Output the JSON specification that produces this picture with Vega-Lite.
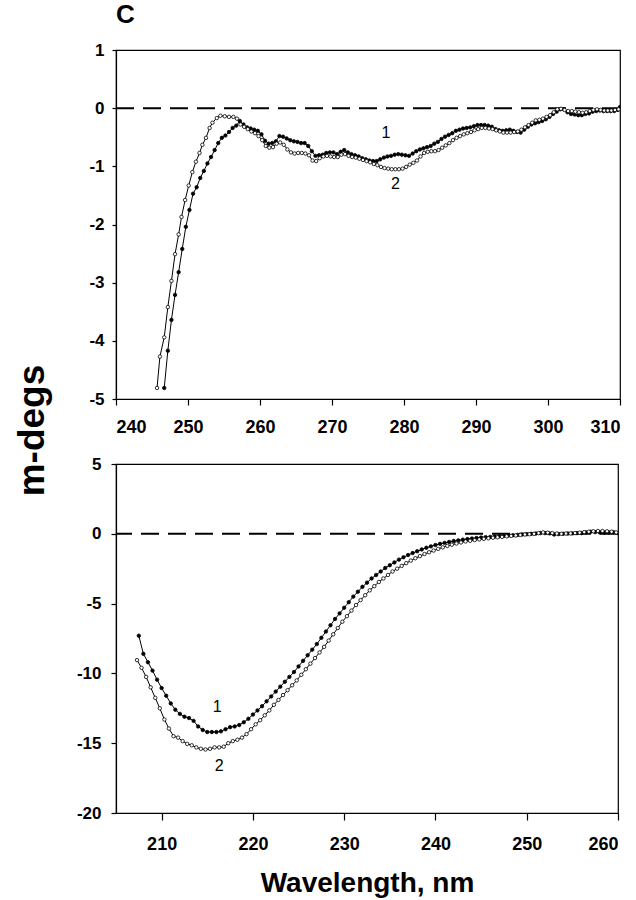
{
  "$schema": "https://vega.github.io/schema/vega-lite/v6.json",
  "background": "white",
  "padding": {"left": 12, "top": 1, "right": 5, "bottom": 2},
  "config": {
    "font": "Liberation Sans",
    "view": {"stroke": "black", "strokeWidth": 1.2},
    "axis": {"grid": false, "domainColor": "black", "domainWidth": 1.2, "tickColor": "black", "tickWidth": 1.2, "labelColor": "black", "labelFont": "Liberation Sans", "labelFontWeight": "bold", "labelFontSize": 17, "titleFont": "Liberation Sans", "titleColor": "black", "titleFontWeight": "bold"}
  },
  "datasets": {
    "top": [
      {"s":"1","w":246.7,"v":-4.81},{"s":"1","w":247.2,"v":-4.17},{"s":"1","w":247.7,"v":-3.64},{"s":"1","w":248.2,"v":-3.21},{"s":"1","w":248.7,"v":-2.82},{"s":"1","w":249.2,"v":-2.42},{"s":"1","w":249.7,"v":-2.04},{"s":"1","w":250.2,"v":-1.75},{"s":"1","w":250.7,"v":-1.47},{"s":"1","w":251.2,"v":-1.36},{"s":"1","w":251.7,"v":-1.2},{"s":"1","w":252.2,"v":-1.08},{"s":"1","w":252.7,"v":-0.95},{"s":"1","w":253.2,"v":-0.84},{"s":"1","w":253.7,"v":-0.72},{"s":"1","w":254.2,"v":-0.6},{"s":"1","w":254.7,"v":-0.51},{"s":"1","w":255.2,"v":-0.47},{"s":"1","w":255.7,"v":-0.41},{"s":"1","w":256.2,"v":-0.34},{"s":"1","w":256.7,"v":-0.3},{"s":"1","w":257.2,"v":-0.22},{"s":"1","w":257.7,"v":-0.28},{"s":"1","w":258.2,"v":-0.33},{"s":"1","w":258.7,"v":-0.35},{"s":"1","w":259.2,"v":-0.37},{"s":"1","w":259.7,"v":-0.39},{"s":"1","w":260.2,"v":-0.45},{"s":"1","w":260.7,"v":-0.56},{"s":"1","w":261.2,"v":-0.61},{"s":"1","w":261.7,"v":-0.6},{"s":"1","w":262.2,"v":-0.57},{"s":"1","w":262.7,"v":-0.48},{"s":"1","w":263.2,"v":-0.49},{"s":"1","w":263.7,"v":-0.52},{"s":"1","w":264.2,"v":-0.55},{"s":"1","w":264.7,"v":-0.57},{"s":"1","w":265.2,"v":-0.58},{"s":"1","w":265.7,"v":-0.6},{"s":"1","w":266.2,"v":-0.6},{"s":"1","w":266.7,"v":-0.65},{"s":"1","w":267.2,"v":-0.74},{"s":"1","w":267.7,"v":-0.82},{"s":"1","w":268.2,"v":-0.81},{"s":"1","w":268.7,"v":-0.8},{"s":"1","w":269.2,"v":-0.77},{"s":"1","w":269.7,"v":-0.76},{"s":"1","w":270.2,"v":-0.76},{"s":"1","w":270.7,"v":-0.79},{"s":"1","w":271.2,"v":-0.75},{"s":"1","w":271.7,"v":-0.72},{"s":"1","w":272.2,"v":-0.76},{"s":"1","w":272.7,"v":-0.79},{"s":"1","w":273.2,"v":-0.81},{"s":"1","w":273.7,"v":-0.83},{"s":"1","w":274.2,"v":-0.86},{"s":"1","w":274.7,"v":-0.88},{"s":"1","w":275.2,"v":-0.9},{"s":"1","w":275.7,"v":-0.91},{"s":"1","w":276.2,"v":-0.91},{"s":"1","w":276.7,"v":-0.88},{"s":"1","w":277.2,"v":-0.85},{"s":"1","w":277.7,"v":-0.83},{"s":"1","w":278.2,"v":-0.82},{"s":"1","w":278.7,"v":-0.8},{"s":"1","w":279.2,"v":-0.79},{"s":"1","w":279.7,"v":-0.8},{"s":"1","w":280.2,"v":-0.81},{"s":"1","w":280.7,"v":-0.82},{"s":"1","w":281.2,"v":-0.78},{"s":"1","w":281.7,"v":-0.74},{"s":"1","w":282.2,"v":-0.71},{"s":"1","w":282.7,"v":-0.69},{"s":"1","w":283.2,"v":-0.67},{"s":"1","w":283.7,"v":-0.65},{"s":"1","w":284.2,"v":-0.61},{"s":"1","w":284.7,"v":-0.58},{"s":"1","w":285.2,"v":-0.53},{"s":"1","w":285.7,"v":-0.49},{"s":"1","w":286.2,"v":-0.46},{"s":"1","w":286.7,"v":-0.43},{"s":"1","w":287.2,"v":-0.39},{"s":"1","w":287.7,"v":-0.37},{"s":"1","w":288.2,"v":-0.35},{"s":"1","w":288.7,"v":-0.34},{"s":"1","w":289.2,"v":-0.33},{"s":"1","w":289.7,"v":-0.31},{"s":"1","w":290.2,"v":-0.29},{"s":"1","w":290.7,"v":-0.29},{"s":"1","w":291.2,"v":-0.29},{"s":"1","w":291.7,"v":-0.3},{"s":"1","w":292.2,"v":-0.32},{"s":"1","w":292.7,"v":-0.36},{"s":"1","w":293.2,"v":-0.38},{"s":"1","w":293.7,"v":-0.39},{"s":"1","w":294.2,"v":-0.38},{"s":"1","w":294.7,"v":-0.37},{"s":"1","w":295.2,"v":-0.39},{"s":"1","w":295.7,"v":-0.41},{"s":"1","w":296.2,"v":-0.42},{"s":"1","w":296.7,"v":-0.37},{"s":"1","w":297.2,"v":-0.32},{"s":"1","w":297.7,"v":-0.28},{"s":"1","w":298.2,"v":-0.26},{"s":"1","w":298.7,"v":-0.24},{"s":"1","w":299.2,"v":-0.22},{"s":"1","w":299.7,"v":-0.19},{"s":"1","w":300.2,"v":-0.15},{"s":"1","w":300.7,"v":-0.1},{"s":"1","w":301.2,"v":-0.06},{"s":"1","w":301.7,"v":-0.02},{"s":"1","w":302.2,"v":-0.02},{"s":"1","w":302.7,"v":-0.07},{"s":"1","w":303.2,"v":-0.1},{"s":"1","w":303.7,"v":-0.11},{"s":"1","w":304.2,"v":-0.12},{"s":"1","w":304.7,"v":-0.12},{"s":"1","w":305.2,"v":-0.1},{"s":"1","w":305.7,"v":-0.09},{"s":"1","w":306.2,"v":-0.06},{"s":"1","w":306.7,"v":-0.05},{"s":"1","w":307.2,"v":-0.04},{"s":"1","w":307.7,"v":-0.05},{"s":"1","w":308.2,"v":-0.05},{"s":"1","w":308.7,"v":-0.05},{"s":"1","w":309.2,"v":-0.05},{"s":"1","w":309.7,"v":-0.03},{"s":"1","w":310.0,"v":0.02},
      {"s":"2","w":245.7,"v":-4.81},{"s":"2","w":246.1,"v":-4.27},{"s":"2","w":246.7,"v":-3.94},{"s":"2","w":247.2,"v":-3.42},{"s":"2","w":247.7,"v":-2.97},{"s":"2","w":248.2,"v":-2.51},{"s":"2","w":248.7,"v":-2.17},{"s":"2","w":249.1,"v":-1.87},{"s":"2","w":249.6,"v":-1.58},{"s":"2","w":250.1,"v":-1.33},{"s":"2","w":250.6,"v":-1.1},{"s":"2","w":251.1,"v":-0.92},{"s":"2","w":251.6,"v":-0.77},{"s":"2","w":252.0,"v":-0.63},{"s":"2","w":252.5,"v":-0.51},{"s":"2","w":253.0,"v":-0.34},{"s":"2","w":253.4,"v":-0.25},{"s":"2","w":254.0,"v":-0.17},{"s":"2","w":254.5,"v":-0.13},{"s":"2","w":255.1,"v":-0.14},{"s":"2","w":255.7,"v":-0.15},{"s":"2","w":256.3,"v":-0.15},{"s":"2","w":256.8,"v":-0.18},{"s":"2","w":257.3,"v":-0.28},{"s":"2","w":257.8,"v":-0.32},{"s":"2","w":258.3,"v":-0.36},{"s":"2","w":258.8,"v":-0.4},{"s":"2","w":259.3,"v":-0.43},{"s":"2","w":259.8,"v":-0.48},{"s":"2","w":260.3,"v":-0.55},{"s":"2","w":260.8,"v":-0.65},{"s":"2","w":261.3,"v":-0.68},{"s":"2","w":261.8,"v":-0.67},{"s":"2","w":262.3,"v":-0.61},{"s":"2","w":262.8,"v":-0.59},{"s":"2","w":263.3,"v":-0.63},{"s":"2","w":263.8,"v":-0.71},{"s":"2","w":264.3,"v":-0.76},{"s":"2","w":264.8,"v":-0.78},{"s":"2","w":265.3,"v":-0.77},{"s":"2","w":265.8,"v":-0.77},{"s":"2","w":266.3,"v":-0.78},{"s":"2","w":266.8,"v":-0.81},{"s":"2","w":267.3,"v":-0.9},{"s":"2","w":267.8,"v":-0.91},{"s":"2","w":268.3,"v":-0.86},{"s":"2","w":268.8,"v":-0.83},{"s":"2","w":269.3,"v":-0.82},{"s":"2","w":269.8,"v":-0.83},{"s":"2","w":270.3,"v":-0.84},{"s":"2","w":270.8,"v":-0.84},{"s":"2","w":271.3,"v":-0.8},{"s":"2","w":271.8,"v":-0.79},{"s":"2","w":272.3,"v":-0.82},{"s":"2","w":272.8,"v":-0.84},{"s":"2","w":273.3,"v":-0.85},{"s":"2","w":273.8,"v":-0.87},{"s":"2","w":274.3,"v":-0.89},{"s":"2","w":274.8,"v":-0.91},{"s":"2","w":275.3,"v":-0.93},{"s":"2","w":275.8,"v":-0.96},{"s":"2","w":276.3,"v":-0.98},{"s":"2","w":276.8,"v":-1.01},{"s":"2","w":277.3,"v":-1.03},{"s":"2","w":277.8,"v":-1.04},{"s":"2","w":278.3,"v":-1.05},{"s":"2","w":278.8,"v":-1.05},{"s":"2","w":279.3,"v":-1.05},{"s":"2","w":279.8,"v":-1.04},{"s":"2","w":280.3,"v":-1.01},{"s":"2","w":280.8,"v":-0.97},{"s":"2","w":281.3,"v":-0.94},{"s":"2","w":281.8,"v":-0.9},{"s":"2","w":282.3,"v":-0.83},{"s":"2","w":282.8,"v":-0.77},{"s":"2","w":283.3,"v":-0.75},{"s":"2","w":283.8,"v":-0.74},{"s":"2","w":284.3,"v":-0.74},{"s":"2","w":284.8,"v":-0.72},{"s":"2","w":285.3,"v":-0.68},{"s":"2","w":285.8,"v":-0.64},{"s":"2","w":286.3,"v":-0.6},{"s":"2","w":286.8,"v":-0.55},{"s":"2","w":287.3,"v":-0.51},{"s":"2","w":287.8,"v":-0.48},{"s":"2","w":288.3,"v":-0.45},{"s":"2","w":288.8,"v":-0.43},{"s":"2","w":289.3,"v":-0.41},{"s":"2","w":289.8,"v":-0.38},{"s":"2","w":290.3,"v":-0.36},{"s":"2","w":290.8,"v":-0.34},{"s":"2","w":291.3,"v":-0.34},{"s":"2","w":291.8,"v":-0.35},{"s":"2","w":292.3,"v":-0.36},{"s":"2","w":292.8,"v":-0.38},{"s":"2","w":293.3,"v":-0.4},{"s":"2","w":293.8,"v":-0.42},{"s":"2","w":294.3,"v":-0.42},{"s":"2","w":294.8,"v":-0.42},{"s":"2","w":295.3,"v":-0.41},{"s":"2","w":295.8,"v":-0.4},{"s":"2","w":296.3,"v":-0.37},{"s":"2","w":296.8,"v":-0.33},{"s":"2","w":297.3,"v":-0.29},{"s":"2","w":297.8,"v":-0.25},{"s":"2","w":298.3,"v":-0.21},{"s":"2","w":298.8,"v":-0.2},{"s":"2","w":299.3,"v":-0.18},{"s":"2","w":299.8,"v":-0.15},{"s":"2","w":300.3,"v":-0.12},{"s":"2","w":300.8,"v":-0.07},{"s":"2","w":301.3,"v":-0.02},{"s":"2","w":301.8,"v":-0.01},{"s":"2","w":302.3,"v":-0.03},{"s":"2","w":302.8,"v":-0.05},{"s":"2","w":303.3,"v":-0.05},{"s":"2","w":303.8,"v":-0.06},{"s":"2","w":304.3,"v":-0.07},{"s":"2","w":304.8,"v":-0.08},{"s":"2","w":305.3,"v":-0.07},{"s":"2","w":305.8,"v":-0.05},{"s":"2","w":306.3,"v":-0.03},{"s":"2","w":306.8,"v":-0.02},{"s":"2","w":307.3,"v":-0.03},{"s":"2","w":307.8,"v":-0.04},{"s":"2","w":308.3,"v":-0.04},{"s":"2","w":308.8,"v":-0.04},{"s":"2","w":309.3,"v":-0.03},{"s":"2","w":309.8,"v":-0.02}
    ],
    "bottom": [
      {"s":"1","w":207.5,"v":-7.3},{"s":"1","w":208.0,"v":-8.6},{"s":"1","w":208.5,"v":-9.2},{"s":"1","w":209.0,"v":-9.8},{"s":"1","w":209.5,"v":-10.45},{"s":"1","w":210.0,"v":-11.05},{"s":"1","w":210.5,"v":-11.6},{"s":"1","w":211.0,"v":-12.15},{"s":"1","w":211.5,"v":-12.6},{"s":"1","w":212.0,"v":-12.9},{"s":"1","w":212.5,"v":-13.1},{"s":"1","w":213.0,"v":-13.2},{"s":"1","w":213.5,"v":-13.4},{"s":"1","w":214.0,"v":-13.8},{"s":"1","w":214.5,"v":-14.05},{"s":"1","w":215.0,"v":-14.2},{"s":"1","w":215.5,"v":-14.2},{"s":"1","w":216.0,"v":-14.2},{"s":"1","w":216.5,"v":-14.15},{"s":"1","w":217.0,"v":-14.0},{"s":"1","w":217.5,"v":-13.85},{"s":"1","w":218.0,"v":-13.8},{"s":"1","w":218.5,"v":-13.7},{"s":"1","w":219.0,"v":-13.5},{"s":"1","w":219.5,"v":-13.25},{"s":"1","w":220.0,"v":-12.95},{"s":"1","w":220.5,"v":-12.65},{"s":"1","w":221.0,"v":-12.35},{"s":"1","w":221.5,"v":-12.0},{"s":"1","w":222.0,"v":-11.65},{"s":"1","w":222.5,"v":-11.3},{"s":"1","w":223.0,"v":-10.95},{"s":"1","w":223.5,"v":-10.6},{"s":"1","w":224.0,"v":-10.25},{"s":"1","w":224.5,"v":-9.9},{"s":"1","w":225.0,"v":-9.5},{"s":"1","w":225.5,"v":-9.1},{"s":"1","w":226.0,"v":-8.7},{"s":"1","w":226.5,"v":-8.3},{"s":"1","w":227.0,"v":-7.9},{"s":"1","w":227.5,"v":-7.45},{"s":"1","w":228.0,"v":-7.0},{"s":"1","w":228.5,"v":-6.55},{"s":"1","w":229.0,"v":-6.1},{"s":"1","w":229.5,"v":-5.7},{"s":"1","w":230.0,"v":-5.3},{"s":"1","w":230.5,"v":-4.9},{"s":"1","w":231.0,"v":-4.5},{"s":"1","w":231.5,"v":-4.15},{"s":"1","w":232.0,"v":-3.8},{"s":"1","w":232.5,"v":-3.5},{"s":"1","w":233.0,"v":-3.2},{"s":"1","w":233.5,"v":-2.95},{"s":"1","w":234.0,"v":-2.7},{"s":"1","w":234.5,"v":-2.45},{"s":"1","w":235.0,"v":-2.25},{"s":"1","w":235.5,"v":-2.05},{"s":"1","w":236.0,"v":-1.85},{"s":"1","w":236.5,"v":-1.68},{"s":"1","w":237.0,"v":-1.52},{"s":"1","w":237.5,"v":-1.38},{"s":"1","w":238.0,"v":-1.25},{"s":"1","w":238.5,"v":-1.12},{"s":"1","w":239.0,"v":-1.0},{"s":"1","w":239.5,"v":-0.9},{"s":"1","w":240.0,"v":-0.8},{"s":"1","w":240.5,"v":-0.72},{"s":"1","w":241.0,"v":-0.65},{"s":"1","w":241.5,"v":-0.58},{"s":"1","w":242.0,"v":-0.52},{"s":"1","w":242.5,"v":-0.47},{"s":"1","w":243.0,"v":-0.42},{"s":"1","w":243.5,"v":-0.38},{"s":"1","w":244.0,"v":-0.34},{"s":"1","w":244.5,"v":-0.3},{"s":"1","w":245.0,"v":-0.27},{"s":"1","w":245.5,"v":-0.24},{"s":"1","w":246.0,"v":-0.22},{"s":"1","w":246.5,"v":-0.2},{"s":"1","w":247.0,"v":-0.17},{"s":"1","w":247.5,"v":-0.14},{"s":"1","w":248.0,"v":-0.12},{"s":"1","w":248.5,"v":-0.1},{"s":"1","w":249.0,"v":-0.08},{"s":"1","w":249.5,"v":-0.05},{"s":"1","w":250.0,"v":-0.03},{"s":"1","w":250.5,"v":0.0},{"s":"1","w":251.0,"v":0.02},{"s":"1","w":251.5,"v":0.05},{"s":"1","w":252.0,"v":0.05},{"s":"1","w":252.5,"v":0.03},{"s":"1","w":253.0,"v":-0.05},{"s":"1","w":253.5,"v":-0.02},{"s":"1","w":254.0,"v":0.0},{"s":"1","w":254.5,"v":0.02},{"s":"1","w":255.0,"v":0.03},{"s":"1","w":255.5,"v":0.05},{"s":"1","w":256.0,"v":0.05},{"s":"1","w":256.5,"v":0.1},{"s":"1","w":257.0,"v":0.15},{"s":"1","w":257.5,"v":0.12},{"s":"1","w":258.0,"v":0.1},{"s":"1","w":258.5,"v":0.08},{"s":"1","w":259.0,"v":0.1},{"s":"1","w":259.5,"v":0.12},{"s":"1","w":260.0,"v":0.05},
      {"s":"2","w":207.3,"v":-9.05},{"s":"2","w":207.8,"v":-9.6},{"s":"2","w":208.3,"v":-10.25},{"s":"2","w":208.8,"v":-11.0},{"s":"2","w":209.3,"v":-11.75},{"s":"2","w":209.8,"v":-12.5},{"s":"2","w":210.3,"v":-13.3},{"s":"2","w":210.8,"v":-13.95},{"s":"2","w":211.3,"v":-14.5},{"s":"2","w":211.8,"v":-14.6},{"s":"2","w":212.3,"v":-14.85},{"s":"2","w":212.8,"v":-15.05},{"s":"2","w":213.3,"v":-15.15},{"s":"2","w":213.8,"v":-15.3},{"s":"2","w":214.3,"v":-15.4},{"s":"2","w":214.8,"v":-15.45},{"s":"2","w":215.3,"v":-15.4},{"s":"2","w":215.8,"v":-15.3},{"s":"2","w":216.3,"v":-15.3},{"s":"2","w":216.8,"v":-15.25},{"s":"2","w":217.3,"v":-15.0},{"s":"2","w":217.8,"v":-14.85},{"s":"2","w":218.3,"v":-14.75},{"s":"2","w":218.8,"v":-14.6},{"s":"2","w":219.3,"v":-14.35},{"s":"2","w":219.8,"v":-14.0},{"s":"2","w":220.3,"v":-13.65},{"s":"2","w":220.8,"v":-13.35},{"s":"2","w":221.3,"v":-13.0},{"s":"2","w":221.8,"v":-12.65},{"s":"2","w":222.3,"v":-12.25},{"s":"2","w":222.8,"v":-11.9},{"s":"2","w":223.3,"v":-11.55},{"s":"2","w":223.8,"v":-11.2},{"s":"2","w":224.3,"v":-10.85},{"s":"2","w":224.8,"v":-10.5},{"s":"2","w":225.3,"v":-10.1},{"s":"2","w":225.8,"v":-9.7},{"s":"2","w":226.3,"v":-9.3},{"s":"2","w":226.8,"v":-8.9},{"s":"2","w":227.3,"v":-8.5},{"s":"2","w":227.8,"v":-8.1},{"s":"2","w":228.3,"v":-7.65},{"s":"2","w":228.8,"v":-7.2},{"s":"2","w":229.3,"v":-6.75},{"s":"2","w":229.8,"v":-6.3},{"s":"2","w":230.3,"v":-5.9},{"s":"2","w":230.8,"v":-5.5},{"s":"2","w":231.3,"v":-5.1},{"s":"2","w":231.8,"v":-4.75},{"s":"2","w":232.3,"v":-4.4},{"s":"2","w":232.8,"v":-4.05},{"s":"2","w":233.3,"v":-3.75},{"s":"2","w":233.8,"v":-3.45},{"s":"2","w":234.3,"v":-3.2},{"s":"2","w":234.8,"v":-2.95},{"s":"2","w":235.3,"v":-2.7},{"s":"2","w":235.8,"v":-2.5},{"s":"2","w":236.3,"v":-2.3},{"s":"2","w":236.8,"v":-2.1},{"s":"2","w":237.3,"v":-1.92},{"s":"2","w":237.8,"v":-1.75},{"s":"2","w":238.3,"v":-1.6},{"s":"2","w":238.8,"v":-1.45},{"s":"2","w":239.3,"v":-1.32},{"s":"2","w":239.8,"v":-1.2},{"s":"2","w":240.3,"v":-1.08},{"s":"2","w":240.8,"v":-0.97},{"s":"2","w":241.3,"v":-0.87},{"s":"2","w":241.8,"v":-0.78},{"s":"2","w":242.3,"v":-0.7},{"s":"2","w":242.8,"v":-0.62},{"s":"2","w":243.3,"v":-0.55},{"s":"2","w":243.8,"v":-0.5},{"s":"2","w":244.3,"v":-0.45},{"s":"2","w":244.8,"v":-0.4},{"s":"2","w":245.3,"v":-0.36},{"s":"2","w":245.8,"v":-0.32},{"s":"2","w":246.3,"v":-0.28},{"s":"2","w":246.8,"v":-0.25},{"s":"2","w":247.3,"v":-0.22},{"s":"2","w":247.8,"v":-0.18},{"s":"2","w":248.3,"v":-0.15},{"s":"2","w":248.8,"v":-0.12},{"s":"2","w":249.3,"v":-0.08},{"s":"2","w":249.8,"v":-0.05},{"s":"2","w":250.3,"v":-0.03},{"s":"2","w":250.8,"v":0.0},{"s":"2","w":251.3,"v":0.05},{"s":"2","w":251.8,"v":0.1},{"s":"2","w":252.3,"v":0.08},{"s":"2","w":252.8,"v":0.05},{"s":"2","w":253.3,"v":0.02},{"s":"2","w":253.8,"v":0.0},{"s":"2","w":254.3,"v":0.02},{"s":"2","w":254.8,"v":0.03},{"s":"2","w":255.3,"v":0.05},{"s":"2","w":255.8,"v":0.08},{"s":"2","w":256.3,"v":0.12},{"s":"2","w":256.8,"v":0.15},{"s":"2","w":257.3,"v":0.18},{"s":"2","w":257.8,"v":0.2},{"s":"2","w":258.3,"v":0.2},{"s":"2","w":258.8,"v":0.18},{"s":"2","w":259.3,"v":0.15},{"s":"2","w":259.8,"v":0.1}
    ],
    "topLabels": [{"w":277.5,"v":-0.42,"t":"1"},{"w":278.8,"v":-1.3,"t":"2"}],
    "bottomLabels": [{"w":216.1,"v":-12.4,"t":"1"},{"w":216.3,"v":-16.6,"t":"2"}]
  },
  "spacing": 65,
  "bounds": "flush",
  "vconcat": [
    {
      "width": 504,
      "height": 349,
      "title": {"text": "C", "anchor": "start", "frame": "group", "fontSize": 26, "fontWeight": "bold", "color": "black", "font": "Liberation Sans", "baseline": "alphabetic", "offset": -8},
      "layer": [
        {"data": {"values": [{}]}, "mark": {"type": "rule", "strokeDash": [18, 9], "strokeWidth": 2, "color": "black"}, "encoding": {"y": {"datum": 0, "type": "quantitative"}}},
        {"data": {"name": "top"}, "mark": {"type": "line", "color": "black", "strokeWidth": 1, "clip": true},
         "encoding": {
           "x": {"field": "w", "type": "quantitative", "scale": {"domain": [240, 310], "nice": false, "zero": false}, "axis": {"values": [240, 250, 260, 270, 280, 290, 300, 310], "tickSize": 6, "labelPadding": 13, "title": null, "labelFontSize": 18}},
           "y": {"field": "v", "type": "quantitative", "scale": {"domain": [-5, 1], "nice": false, "zero": false}, "axis": {"values": [-5, -4, -3, -2, -1, 0, 1], "labelExpr": "'' + datum.value", "tickSize": 4, "labelPadding": 8, "title": "m-degs", "titleFontSize": 37, "titleAngle": -90, "titleBaseline": "alphabetic", "titleAlign": "center", "titleX": -73, "titleY": 380}},
           "detail": {"field": "s"}
         }},
        {"data": {"name": "top"}, "mark": {"type": "circle", "stroke": "black", "strokeWidth": 0.8, "size": 12, "opacity": 1, "clip": true},
         "encoding": {
           "x": {"field": "w", "type": "quantitative"},
           "y": {"field": "v", "type": "quantitative"},
           "fill": {"field": "s", "type": "nominal", "scale": {"domain": ["1", "2"], "range": ["black", "white"]}, "legend": null}
         }},
        {"data": {"name": "topLabels"}, "mark": {"type": "text", "fontSize": 16, "color": "black", "font": "Liberation Sans", "align": "center", "baseline": "middle"},
         "encoding": {
           "x": {"field": "w", "type": "quantitative"},
           "y": {"field": "v", "type": "quantitative"},
           "text": {"field": "t"}
         }}
      ]
    },
    {
      "width": 502,
      "height": 349,
      "layer": [
        {"data": {"values": [{}]}, "mark": {"type": "rule", "strokeDash": [18, 9], "strokeWidth": 2, "color": "black"}, "encoding": {"y": {"datum": 0, "type": "quantitative"}}},
        {"data": {"name": "bottom"}, "mark": {"type": "line", "color": "black", "strokeWidth": 1, "clip": true},
         "encoding": {
           "x": {"field": "w", "type": "quantitative", "scale": {"domain": [205, 260], "nice": false, "zero": false}, "axis": {"values": [210, 220, 230, 240, 250, 260], "tickSize": 7, "labelPadding": 15, "labelFontSize": 18, "title": "Wavelength, nm", "titleFontSize": 28, "titlePadding": 16}},
           "y": {"field": "v", "type": "quantitative", "scale": {"domain": [-20, 5], "nice": false, "zero": false}, "axis": {"values": [-20, -15, -10, -5, 0, 5], "labelExpr": "'' + datum.value", "tickSize": 5, "labelPadding": 10, "title": null}},
           "detail": {"field": "s"}
         }},
        {"data": {"name": "bottom"}, "mark": {"type": "circle", "stroke": "black", "strokeWidth": 0.8, "size": 12, "opacity": 1, "clip": true},
         "encoding": {
           "x": {"field": "w", "type": "quantitative"},
           "y": {"field": "v", "type": "quantitative"},
           "fill": {"field": "s", "type": "nominal", "scale": {"domain": ["1", "2"], "range": ["black", "white"]}, "legend": null}
         }},
        {"data": {"name": "bottomLabels"}, "mark": {"type": "text", "fontSize": 16, "color": "black", "font": "Liberation Sans", "align": "center", "baseline": "middle"},
         "encoding": {
           "x": {"field": "w", "type": "quantitative"},
           "y": {"field": "v", "type": "quantitative"},
           "text": {"field": "t"}
         }}
      ]
    }
  ]
}
